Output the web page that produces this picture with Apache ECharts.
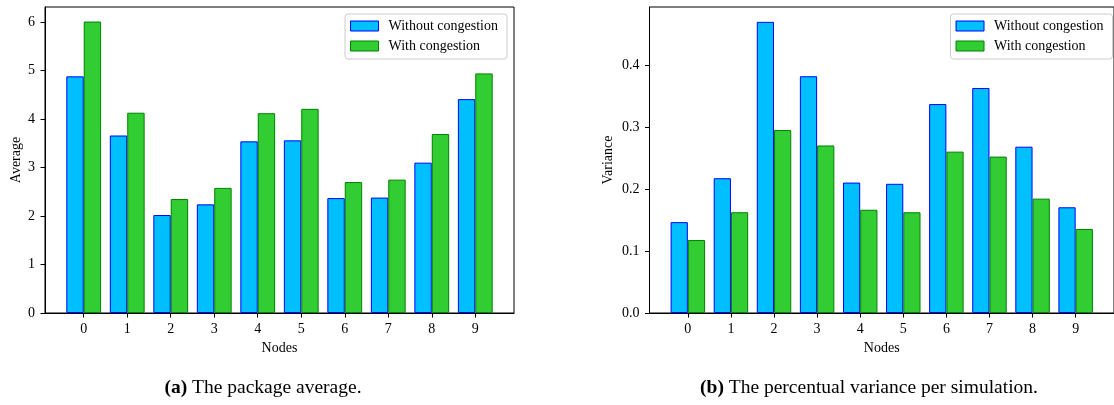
<!DOCTYPE html>
<html>
<head>
<meta charset="utf-8">
<script src="https://cdn.jsdelivr.net/npm/echarts@6/dist/echarts.min.js"></script>
<style>
html,body{margin:0;padding:0;background:#fff;}
#chart{width:1114px;height:405px;}
</style>
</head>
<body>
<div id="chart"></div>
<script>
// ---- data ----
const nodes = [0, 1, 2, 3, 4, 5, 6, 7, 8, 9];
const seriesNames = ['Without congestion', 'With congestion'];
const avgWithout = [4.88, 3.66, 2.02, 2.24, 3.54, 3.56, 2.37, 2.38, 3.10, 4.41];
const avgWith    = [6.01, 4.13, 2.35, 2.58, 4.12, 4.21, 2.70, 2.75, 3.69, 4.94];
const varWithout = [0.147, 0.218, 0.471, 0.383, 0.211, 0.209, 0.338, 0.364, 0.269, 0.171];
const varWith    = [0.118, 0.163, 0.296, 0.271, 0.167, 0.163, 0.261, 0.253, 0.185, 0.136];
const avgTicks = [0, 1, 2, 3, 4, 5, 6];
const varTicks = [0, 0.1, 0.2, 0.3, 0.4];
const captionA = ['(a)', 'The package average.'];
const captionB = ['(b)', 'The percentual variance per simulation.'];

// ---- styling ----
const FONT = 'Liberation Serif';
const blue = { fill: '#00BFFF', edge: '#0000FF' };
const green = { fill: '#32CD32', edge: '#008000' };

const pairs = vals => nodes.map((n, i) => [n, vals[i]]);

function xAxisFor(gridIndex) {
  return {
    type: 'value', gridIndex, min: -0.89, max: 9.89,
    name: 'Nodes', nameLocation: 'middle', nameGap: 27,
    nameTextStyle: { fontFamily: FONT, fontSize: 14, color: '#000' },
    axisLine: { show: true, onZero: false, lineStyle: { color: '#000', width: 1 } },
    axisTick: { show: true, length: 4.5, lineStyle: { color: '#000' }, customValues: nodes },
    axisLabel: { fontFamily: FONT, fontSize: 14, color: '#000', margin: 9, customValues: nodes },
    splitLine: { show: false }
  };
}
function yAxisFor(gridIndex, name, max, ticks, gap, dec) {
  return {
    type: 'value', gridIndex, min: 0, max,
    name, nameLocation: 'middle', nameGap: gap, nameRotate: 90,
    nameTextStyle: { fontFamily: FONT, fontSize: 14, color: '#000' },
    axisLine: { show: true, onZero: false, lineStyle: { color: '#000', width: 1 } },
    axisTick: { show: true, length: 4.5, lineStyle: { color: '#000' }, customValues: ticks },
    axisLabel: { fontFamily: FONT, fontSize: 14, color: '#000', margin: 10, customValues: ticks,
      formatter: v => v.toFixed(dec) },
    splitLine: { show: false }
  };
}
function barSeries(name, col, data, idx) {
  return {
    type: 'bar', name, data, xAxisIndex: idx, yAxisIndex: idx,
    barGap: '0%', barCategoryGap: '20%',
    itemStyle: { color: col.fill, borderColor: col.edge, borderWidth: 1 },
    emphasis: { disabled: true }, animation: false
  };
}
function legendFor(pos) {
  return Object.assign({
    orient: 'vertical', top: 14, icon: 'rect',
    itemWidth: 28, itemHeight: 10, itemGap: 6,
    padding: [5, 9, 6, 5],
    backgroundColor: 'rgba(255,255,255,0.8)',
    borderColor: '#cccccc', borderWidth: 1, borderRadius: 3,
    textStyle: { fontFamily: FONT, fontSize: 14, color: '#000', lineHeight: 14, padding: [0, 0, 0, 5] },
    data: [
      { name: seriesNames[0], icon: 'rect', itemStyle: { color: blue.fill, borderColor: blue.edge, borderWidth: 1 } },
      { name: seriesNames[1], icon: 'rect', itemStyle: { color: green.fill, borderColor: green.edge, borderWidth: 1 } }
    ],
    selectedMode: false
  }, pos);
}
function caption(parts, center) {
  return {
    text: '{b|' + parts[0] + '} ' + parts[1],
    left: center, top: 373, textAlign: 'center',
    textStyle: { fontFamily: FONT, fontSize: 19.5, fontWeight: 'normal', color: '#000',
      rich: { b: { fontFamily: FONT, fontSize: 19.5, fontWeight: 'bold', color: '#000' } } }
  };
}

const chart = echarts.init(document.getElementById('chart'), null, { renderer: 'canvas' });
chart.setOption({
  animation: false,
  backgroundColor: '#fff',
  title: [caption(captionA, 258), caption(captionB, 864)],
  grid: [
    { left: 45, top: 7, width: 469, height: 306, show: true, borderColor: '#000', borderWidth: 1 },
    { left: 649.5, top: 7, width: 470, height: 306, show: true, borderColor: '#000', borderWidth: 1 }
  ],
  xAxis: [xAxisFor(0), xAxisFor(1)],
  yAxis: [
    yAxisFor(0, 'Average', 6.31, avgTicks, 22, 0),
    yAxisFor(1, 'Variance', 0.495, varTicks, 34, 1)
  ],
  legend: [legendFor({ right: 1114 - 507 }), legendFor({ right: 1114 - 1112.5 })],
  series: [
    barSeries(seriesNames[0], blue, pairs(avgWithout), 0),
    barSeries(seriesNames[1], green, pairs(avgWith), 0),
    barSeries(seriesNames[0], blue, pairs(varWithout), 1),
    barSeries(seriesNames[1], green, pairs(varWith), 1)
  ]
});
</script>
</body>
</html>
